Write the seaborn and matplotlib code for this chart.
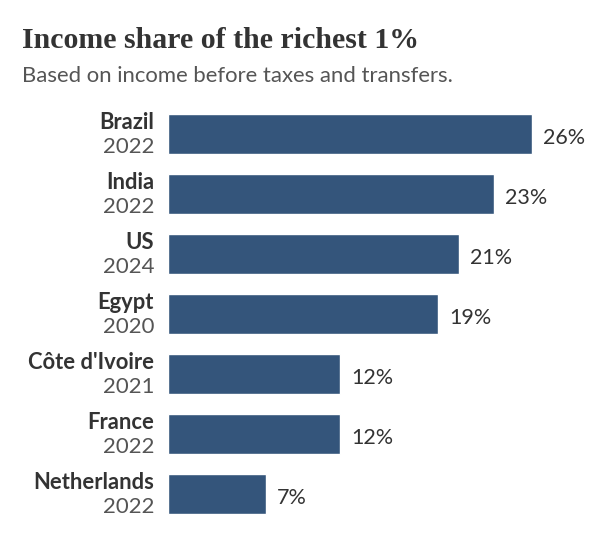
import matplotlib
matplotlib.use("Agg")
import matplotlib.pyplot as plt
import matplotlib.transforms as mtransforms
import seaborn as sns
import pandas as pd

countries = ["Brazil", "India", "US", "Egypt", "Côte d'Ivoire", "France", "Netherlands"]
years = ["2022", "2022", "2024", "2020", "2021", "2022", "2022"]
shares = [26.0, 23.3, 20.8, 19.3, 12.3, 12.3, 7.0]
value_labels = ["26%", "23%", "21%", "19%", "12%", "12%", "7%"]

df = pd.DataFrame({"country": countries, "share": shares})

sns.set_theme(style="white")
plt.rcParams["font.family"] = ["Lato", "DejaVu Sans"]

W, H = 604, 544
fig = plt.figure(figsize=(W / 100, H / 100), dpi=100)
fig.patch.set_facecolor("white")

ax = fig.add_axes([168 / W, (H - 524) / H, 420 / W, 420 / H])
sns.barplot(data=df, x="share", y="country", orient="h", color="#34557b",
            width=0.667, saturation=1, ax=ax)
ax.set_xlim(0, 30)
ax.set_ylim(6.5, -0.5)
ax.set_xlabel("")
ax.set_ylabel("")
ax.set_xticks([])
ax.set_yticks([])
for s in ax.spines.values():
    s.set_visible(False)
ax.set_facecolor("none")

left_tr = mtransforms.offset_copy(
    mtransforms.blended_transform_factory(ax.transAxes, ax.transData),
    fig=fig, x=-14, y=0, units="dots")
val_tr = mtransforms.offset_copy(ax.transData, fig=fig, x=11, y=0, units="dots")

for i, (c, yr, v, lab) in enumerate(zip(countries, years, shares, value_labels)):
    ax.text(0, i - 0.2, c, transform=left_tr, ha="right", va="center",
            fontsize=15.8, fontweight="bold", color="#333333")
    ax.text(0, i + 0.21, yr, transform=left_tr, ha="right", va="center",
            fontsize=16, color="#555555")
    ax.text(v, i + 0.06, lab, transform=val_tr, ha="left", va="center",
            fontsize=15.5, color="#333333")

fig.text(22 / W, 1 - 41 / H, "Income share of the richest 1%",
         fontsize=21.5, fontweight="bold", color="#333333", va="center", ha="left",
         family=["Liberation Serif", "DejaVu Serif"])
fig.text(22 / W, 1 - 76 / H, "Based on income before taxes and transfers.",
         fontsize=15.9, color="#555555", va="center", ha="left")

fig.savefig("out.png", dpi=100, facecolor="white")
